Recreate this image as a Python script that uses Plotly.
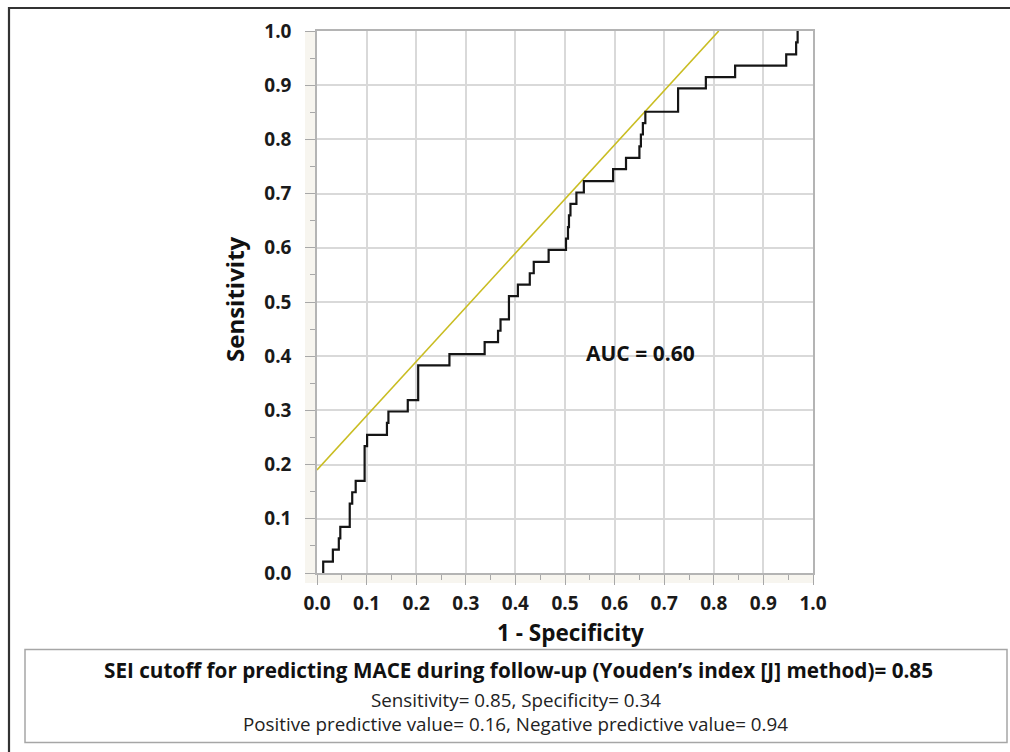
import plotly.graph_objects as go

# ROC curve corner points (1 - specificity, sensitivity); drawn as steps
fpr = [0.0125, 0.0125, 0.032, 0.044, 0.047, 0.066, 0.071, 0.078, 0.096, 0.101,
       0.141, 0.144, 0.183, 0.204, 0.267, 0.338, 0.365, 0.370, 0.387, 0.405,
       0.429, 0.437, 0.467, 0.502, 0.506, 0.508, 0.511, 0.523, 0.538, 0.597,
       0.623, 0.650, 0.653, 0.657, 0.662, 0.728, 0.784, 0.843, 0.946, 0.966,
       0.969]
tpr = [0.000, 0.021, 0.043, 0.064, 0.085, 0.128, 0.149, 0.170, 0.234, 0.255,
       0.277, 0.298, 0.319, 0.383, 0.404, 0.426, 0.447, 0.468, 0.511, 0.532,
       0.553, 0.574, 0.596, 0.617, 0.638, 0.660, 0.681, 0.702, 0.723, 0.745,
       0.766, 0.787, 0.809, 0.830, 0.851, 0.894, 0.915, 0.936, 0.957, 0.979,
       1.000]

# Youden tangent line
tangent_x = [0.0, 0.81]
tangent_y = [0.19, 1.0]

auc_text = "AUC = 0.60"
auc_pos = (0.652, 0.405)
x_title = "1 - Specificity"
y_title = "Sensitivity"
box_lines = [
    "SEI cutoff for predicting MACE during follow-up (Youden\u2019s index [J] method)= 0.85",
    "Sensitivity= 0.85, Specificity= 0.34",
    "Positive predictive value= 0.16, Negative predictive value= 0.94",
]

W, H = 1010, 752
ML, MR, MT, MB = 317, 197, 31, 179
PW, PH = W - ML - MR, H - MT - MB


def px(x):
    return (x - ML) / PW


def py(y):
    return (H - MB - y) / PH


FONT = "Open Sans"
fig = go.Figure()
fig.add_trace(go.Scatter(x=tangent_x, y=tangent_y, mode="lines",
                         line=dict(color="#c9bd22", width=1.6),
                         hoverinfo="skip", showlegend=False))
fig.add_trace(go.Scatter(x=fpr, y=tpr, mode="lines", line_shape="hv",
                         line=dict(color="#151515", width=2.2),
                         showlegend=False))

axis_common = dict(
    range=[0, 1], dtick=0.1, tick0=0, tickformat=".1f",
    showgrid=True, gridcolor="#d9d9d9", gridwidth=1.5,
    showline=True, linecolor="#b4b4b4", linewidth=1.5, mirror=True,
    ticks="outside", ticklen=10, tickcolor="#a8a8a8", tickwidth=1.3,
    minor=dict(dtick=0.05, tick0=0, ticks="outside", ticklen=5,
               tickcolor="#a8a8a8", tickwidth=1.3, showgrid=False),
    tickfont=dict(family=FONT, size=19, weight="bold", color="#1a1a1a"),
    zeroline=False, fixedrange=True,
)
fig.update_xaxes(**axis_common, ticklabelstandoff=2)
fig.update_yaxes(**axis_common, ticklabelstandoff=10)

shapes = [
    # faint tick bands
    dict(type="rect", xref="paper", yref="paper", x0=px(305), x1=0, y0=py(583), y1=1,
         fillcolor="#f7f5ef", line_width=0, layer="below"),
    dict(type="rect", xref="paper", yref="paper", x0=0, x1=1, y0=py(583), y1=0,
         fillcolor="#f7f5ef", line_width=0, layer="below"),
    # outer frame
    dict(type="rect", xref="paper", yref="paper", x0=px(9), x1=px(1030), y0=py(770), y1=py(8),
         line=dict(color="#333333", width=2.2), fillcolor="rgba(0,0,0,0)"),
    # info box
    dict(type="rect", xref="paper", yref="paper", x0=px(25), x1=px(1007), y0=py(742.5), y1=py(649.5),
         line=dict(color="#a6a6a6", width=1.5), fillcolor="rgba(0,0,0,0)"),
]

annotations = [
    dict(x=auc_pos[0], y=auc_pos[1], xref="x", yref="y", text=auc_text, showarrow=False,
         font=dict(family=FONT, size=21, weight="bold", color="#111111"),
         xanchor="center", yanchor="middle"),
    dict(x=px(570), y=py(632), xref="paper", yref="paper", text=x_title, showarrow=False,
         font=dict(family=FONT, size=22.5, weight="bold", color="#111111"),
         xanchor="center", yanchor="middle"),
    dict(x=px(234), y=py(299), xref="paper", yref="paper", text=y_title, showarrow=False,
         textangle=-90, font=dict(family=FONT, size=24, weight="bold", color="#111111"),
         xanchor="center", yanchor="middle"),
    dict(x=px(518), y=py(670), xref="paper", yref="paper", text=box_lines[0], showarrow=False,
         font=dict(family=FONT, size=20.7, weight="bold", color="#111111"),
         xanchor="center", yanchor="middle"),
    dict(x=px(516), y=py(700), xref="paper", yref="paper", text=box_lines[1], showarrow=False,
         font=dict(family=FONT, size=18.8, color="#222222"),
         xanchor="center", yanchor="middle"),
    dict(x=px(515), y=py(724), xref="paper", yref="paper", text=box_lines[2], showarrow=False,
         font=dict(family=FONT, size=18.8, color="#222222"),
         xanchor="center", yanchor="middle"),
]

fig.update_layout(
    width=W, height=H, autosize=False,
    margin=dict(l=ML, r=MR, t=MT, b=MB, pad=0),
    paper_bgcolor="white", plot_bgcolor="white",
    shapes=shapes, annotations=annotations, showlegend=False,
)

fig.write_html("out.html", config=dict(displayModeBar=False),
               post_script="document.body.style.margin='0';document.body.style.overflow='hidden';")
